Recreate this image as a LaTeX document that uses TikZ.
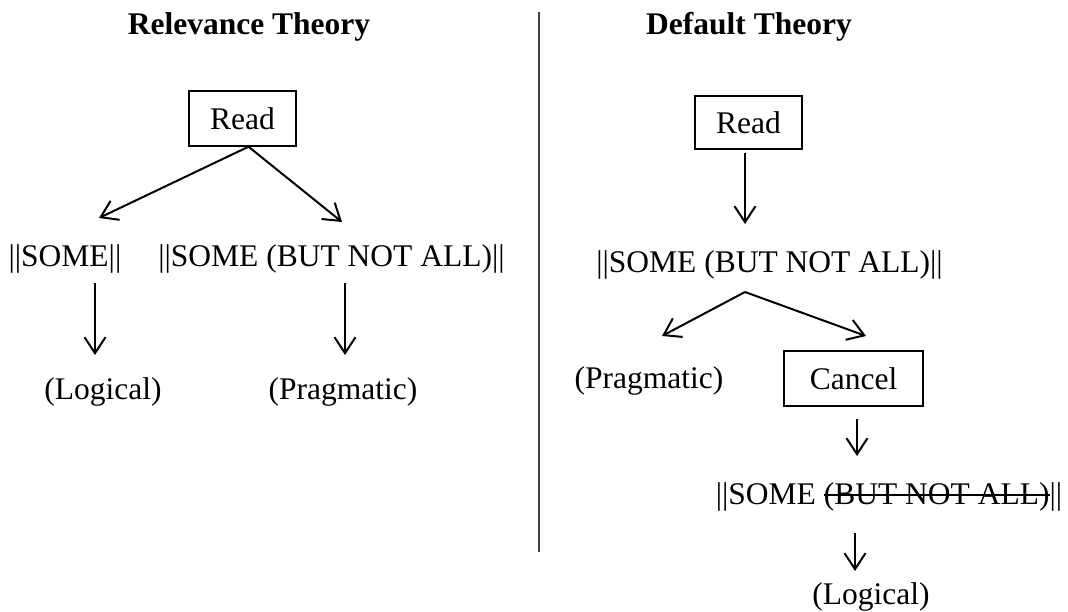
\documentclass[tikz,border=0pt]{standalone}
\usepackage{fontspec}
\setmainfont{Liberation Serif}
\usetikzlibrary{arrows.meta}
\newsavebox\strkbox
\newcommand\mystrike[1]{\sbox\strkbox{#1}\rlap{\rule[0.25em]{\wd\strkbox}{1.8pt}}\usebox\strkbox}
\tikzset{
  x=1pt, y=-1pt,
  txt/.style={anchor=base, inner sep=0pt, font=\fontsize{31.5}{36}\selectfont},
  ttl/.style={anchor=base, inner sep=0pt, font=\fontsize{31.5}{36}\selectfont\bfseries},
  boxnode/.style={draw, line width=1.4pt, inner sep=0pt, minimum height=55pt, font=\fontsize{31.5}{36}\selectfont},
  arr/.style={line width=2pt, -{Straight Barb[length=16pt, width=21pt]}},
  divider/.style={line width=1.2pt, draw=black!75}
}
\begin{document}
\begin{tikzpicture}
\useasboundingbox (0,0) rectangle (1068,612);
% titles
\node[ttl] (tl) at (249,35) {Relevance Theory};
\node[ttl] (tr) at (749,35) {Default Theory};
% divider
\coordinate (dtop) at (539,12);
\coordinate (dbot) at (539,552);
\draw[divider] (dtop) -- (dbot);
% left: Relevance Theory
\node[boxnode, minimum width=107pt] (r1) at (242.5,118.5) {Read};
\node[txt] (s1) at (65,267) {||SOME||};
\node[txt] (s2) at (331.5,267) {||SOME (BUT NOT ALL)||};
\node[txt] (lg1) at (103,399) {(Logical)};
\node[txt] (pg1) at (343,399) {(Pragmatic)};
\coordinate (t1) at (99,218);
\coordinate (t2) at (342,222);
\draw[arr] ([xshift=6pt]r1.south) -- (t1);
\draw[arr] ([xshift=6pt]r1.south) -- (t2);
\coordinate (v1a) at (95,283);
\coordinate (v1b) at (95,355);
\coordinate (v2a) at (345,283);
\coordinate (v2b) at (345,355);
\draw[arr] (v1a) -- (v1b);
\draw[arr] (v2a) -- (v2b);
% right: Default Theory
\node[boxnode, minimum width=107pt, minimum height=53pt] (r2) at (748.5,122.5) {Read};
\node[txt] (s3) at (769.5,273) {||SOME (BUT NOT ALL)||};
\node[txt] (pg2) at (649,388) {(Pragmatic)};
\node[boxnode, minimum width=139pt] (c2) at (853.5,378.5) {Cancel};
\node[txt] (s4) at (889,504) {||SOME \mystrike{(BUT NOT ALL)}||};
\node[txt] (lg2) at (871,604) {(Logical)};
\coordinate (w1) at (745,224);
\draw[arr] ([xshift=-3.5pt, yshift=-3pt]r2.south) -- (w1);
\coordinate (apex) at (745,292);
\coordinate (t3) at (662,336);
\coordinate (t4) at (866,336);
\draw[arr] (apex) -- (t3);
\draw[arr] (apex) -- (t4);
\coordinate (w2a) at (857,419);
\coordinate (w2b) at (857,456);
\draw[arr] (w2a) -- (w2b);
\coordinate (w3a) at (855,533);
\coordinate (w3b) at (855,571);
\draw[arr] (w3a) -- (w3b);
\end{tikzpicture}
\end{document}
